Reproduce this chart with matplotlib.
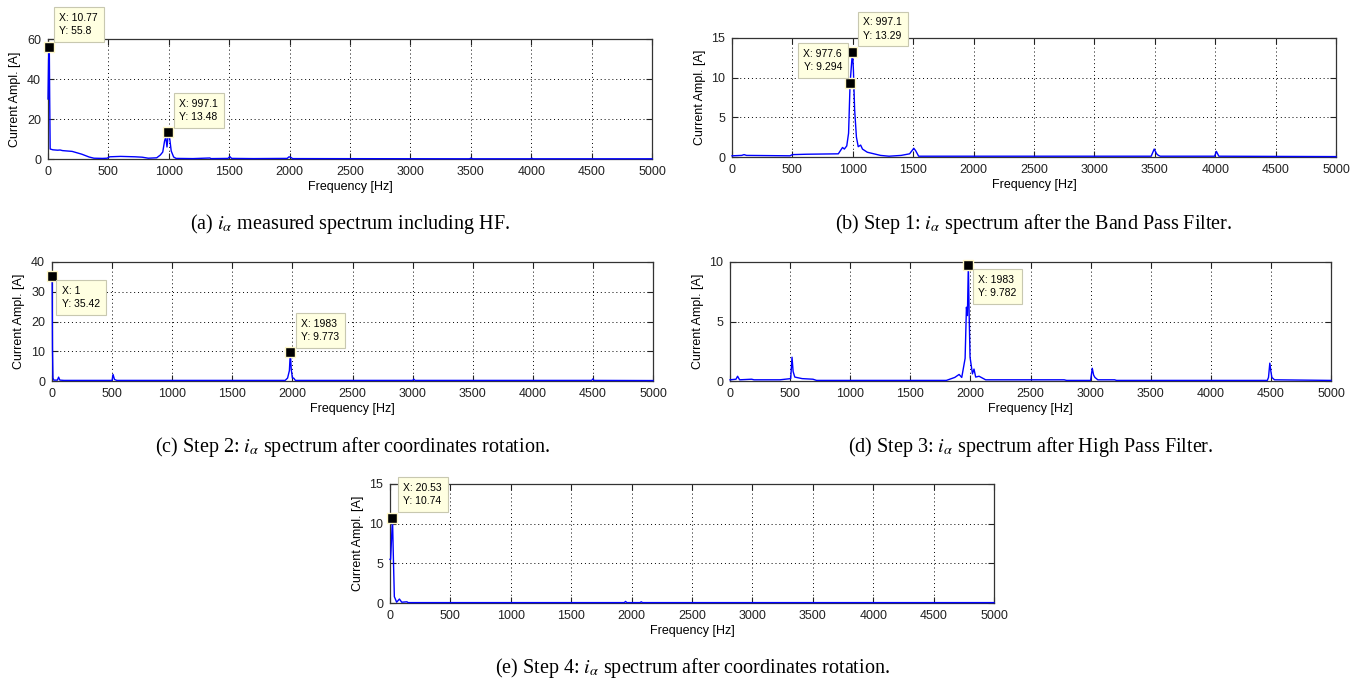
import matplotlib
matplotlib.use('Agg')
import matplotlib.pyplot as plt

plt.rcParams['font.family'] = ['Liberation Sans', 'DejaVu Sans']
plt.rcParams['mathtext.fontset'] = 'stix'

# spectra, (frequency Hz, amplitude A)
spec_a = [(0, 30.0), (5, 50.0), (10.77, 55.8), (14, 30.0), (18, 5.0), (40, 4.6), (80, 4.4),
          (100, 4.5), (120, 4.2), (200, 3.8), (280, 2.4), (340, 1.0), (380, 0.4), (450, 0.3),
          (490, 0.4), (510, 1.1), (600, 1.3), (720, 1.1), (780, 0.9), (830, 0.4), (900, 0.6),
          (930, 2.0), (950, 3.5), (965, 9.0), (975, 11.0), (985, 6.0), (997.1, 13.48),
          (1008, 10.0), (1020, 4.0), (1040, 1.0), (1060, 0.3), (1200, 0.2), (1340, 0.5),
          (1350, 0.2), (1490, 0.3), (1505, 1.2), (1520, 0.3), (1700, 0.2), (1980, 0.3),
          (1995, 1.1), (2010, 0.8), (2025, 0.2), (3490, 0.1), (3502, 0.5), (3515, 0.1),
          (3995, 0.1), (4005, 0.4), (4015, 0.1), (5000, 0.1)]
spec_b = [(0, 0.15), (80, 0.2), (100, 0.3), (120, 0.2), (480, 0.15), (500, 0.3), (620, 0.35),
          (880, 0.4), (915, 1.2), (930, 1.0), (950, 1.4), (965, 3.0), (977.6, 9.294),
          (997.1, 13.29), (1005, 11.0), (1015, 6.0), (1030, 2.5), (1045, 1.3), (1065, 1.5),
          (1080, 1.0), (1120, 0.6), (1230, 0.2), (1300, 0.1), (1400, 0.2), (1470, 0.4),
          (1505, 1.1), (1520, 0.8), (1545, 0.1), (3470, 0.1), (3495, 1.0), (3515, 0.4),
          (3530, 0.2), (3545, 0.1), (3995, 0.1), (4010, 0.7), (4030, 0.1), (5000, 0.05)]
spec_c = [(1, 35.42), (4, 11.0), (8, 1.0), (15, 0.3), (45, 0.3), (55, 1.3), (65, 0.3),
          (100, 0.2), (500, 0.2), (508, 2.2), (520, 0.5), (540, 0.2), (1940, 0.2), (1960, 1.0),
          (1975, 3.5), (1983, 9.773), (1990, 4.0), (2000, 1.0), (2010, 1.0), (2025, 0.2),
          (3000, 0.2), (3010, 0.6), (3020, 0.2), (4490, 0.2), (4500, 0.7), (4510, 0.2),
          (5000, 0.15)]
spec_d = [(0, 0.1), (50, 0.15), (63, 0.4), (80, 0.1), (180, 0.15), (200, 0.1), (415, 0.1),
          (505, 0.2), (516, 2.0), (525, 0.8), (539, 0.33), (600, 0.2), (690, 0.15), (720, 0.05),
          (1800, 0.05), (1870, 0.3), (1906, 0.55), (1928, 0.3), (1956, 1.9), (1967, 6.2),
          (1975, 5.5), (1983, 9.782), (1989, 5.9), (1997, 2.0), (2017, 0.6), (2030, 1.0),
          (2044, 0.33), (2072, 0.4), (2127, 0.1), (2780, 0.1), (2800, 0.05), (3000, 0.05),
          (3014, 1.07), (3025, 0.5), (3036, 0.3), (3060, 0.1), (3200, 0.1), (3215, 0.05),
          (4470, 0.05), (4480, 0.3), (4491, 1.5), (4500, 0.8), (4508, 0.3), (4530, 0.1),
          (5000, 0.05)]
spec_e = [(0, 5.5), (5, 5.5), (20.53, 10.74), (28, 5.7), (36, 0.8), (55, 0.1), (78, 0.5),
          (97, 0.1), (140, 0.15), (150, 0.05), (1940, 0.05), (1950, 0.2), (1960, 0.05),
          (2070, 0.05), (2080, 0.15), (2090, 0.05), (5000, 0.05)]

# data tips (x, y)
tips_a = [(10.77, 55.8), (997.1, 13.48)]
tips_b = [(997.1, 13.29), (977.6, 9.294)]
tips_c = [(1, 35.42), (1983, 9.773)]
tips_d = [(1983, 9.782)]
tips_e = [(20.53, 10.74)]

yticks_a = [0, 20, 40, 60]
yticks_b = [0, 5, 10, 15]
yticks_c = [0, 10, 20, 30, 40]
yticks_d = [0, 5, 10]
yticks_e = [0, 5, 10, 15]
xticks = list(range(0, 5001, 500))

captions = [r'(a) $i_\alpha$ measured spectrum including HF.',
            r'(b) Step 1: $i_\alpha$ spectrum after the Band Pass Filter.',
            r'(c) Step 2: $i_\alpha$ spectrum after coordinates rotation.',
            r'(d) Step 3: $i_\alpha$ spectrum after High Pass Filter.',
            r'(e) Step 4: $i_\alpha$ spectrum after coordinates rotation.']

W, H = 1366, 686
fig = plt.figure(figsize=(W / 100, H / 100), dpi=100)

# layout in pixels: axes box (x0, y0, x1, y1), tip offsets, caption baseline
panels = [
    dict(spec=spec_a, tips=tips_a, yt=yticks_a, box=(48, 39, 652, 159),
         offs=[(10, 11), (11, 10)], cap_y=229),
    dict(spec=spec_b, tips=tips_b, yt=yticks_b, box=(732, 38, 1336, 157),
         offs=[(11, 11), (-8, 11)], cap_y=229),
    dict(spec=spec_c, tips=tips_c, yt=yticks_c, box=(52, 262, 653, 381),
         offs=[(10, -10), (11, 10)], cap_y=452),
    dict(spec=spec_d, tips=tips_d, yt=yticks_d, box=(730, 262, 1331, 381),
         offs=[(10, -10)], cap_y=452),
    dict(spec=spec_e, tips=tips_e, yt=yticks_e, box=(390, 484, 994, 603),
         offs=[(11, 12)], cap_y=673),
]


def datatip(ax, x, y, dx, dy):
    ax.plot([x], [y], marker='s', ms=7, mfc='black', mec='#fff8c8', mew=1.0,
            clip_on=False, zorder=6)
    ha = 'left' if dx > 0 else 'right'
    va = 'bottom' if dy > 0 else 'top'
    ax.annotate(f'X: {x:g}\nY: {y:g}', xy=(x, y), xytext=(dx, dy),
                textcoords='offset pixels', ha=ha, va=va, fontsize=7.5,
                linespacing=1.4, annotation_clip=False, zorder=7,
                bbox=dict(boxstyle='square,pad=0.55', fc='#ffffe1', ec='#c8c8b0', lw=0.8))


for p, cap in zip(panels, captions):
    x0, y0, x1, y1 = p['box']
    ax = fig.add_axes([x0 / W, 1 - y1 / H, (x1 - x0) / W, (y1 - y0) / H])
    f = [v[0] for v in p['spec']]
    a = [v[1] for v in p['spec']]
    ax.plot(f, a, color='#0000ff', lw=1.0, clip_on=False, zorder=4)
    ax.set_xlim(0, 5000)
    ax.set_ylim(p['yt'][0], p['yt'][-1])
    ax.set_xticks(xticks)
    ax.set_yticks(p['yt'])
    ax.grid(True, color='black', linestyle=(0, (1, 3)), lw=0.7)
    ax.tick_params(direction='in', top=True, right=True, length=4, width=0.8,
                   labelsize=9, pad=5, colors='#222222')
    for s in ax.spines.values():
        s.set_color('#333333')
        s.set_linewidth(0.9)
        s.set_zorder(3)
    ax.set_xlabel('Frequency [Hz]', fontsize=9, labelpad=2)
    ax.set_ylabel('Current Ampl. [A]', fontsize=9, labelpad=4)
    for (tx, ty), (dx, dy) in zip(p['tips'], p['offs']):
        datatip(ax, tx, ty, dx, dy)
    fig.text((x0 + x1) / 2 / W, 1 - p['cap_y'] / H, cap, ha='center', va='baseline',
             fontsize=14.5, family=['Liberation Serif', 'DejaVu Serif'])

fig.savefig('out.png', dpi=100)
